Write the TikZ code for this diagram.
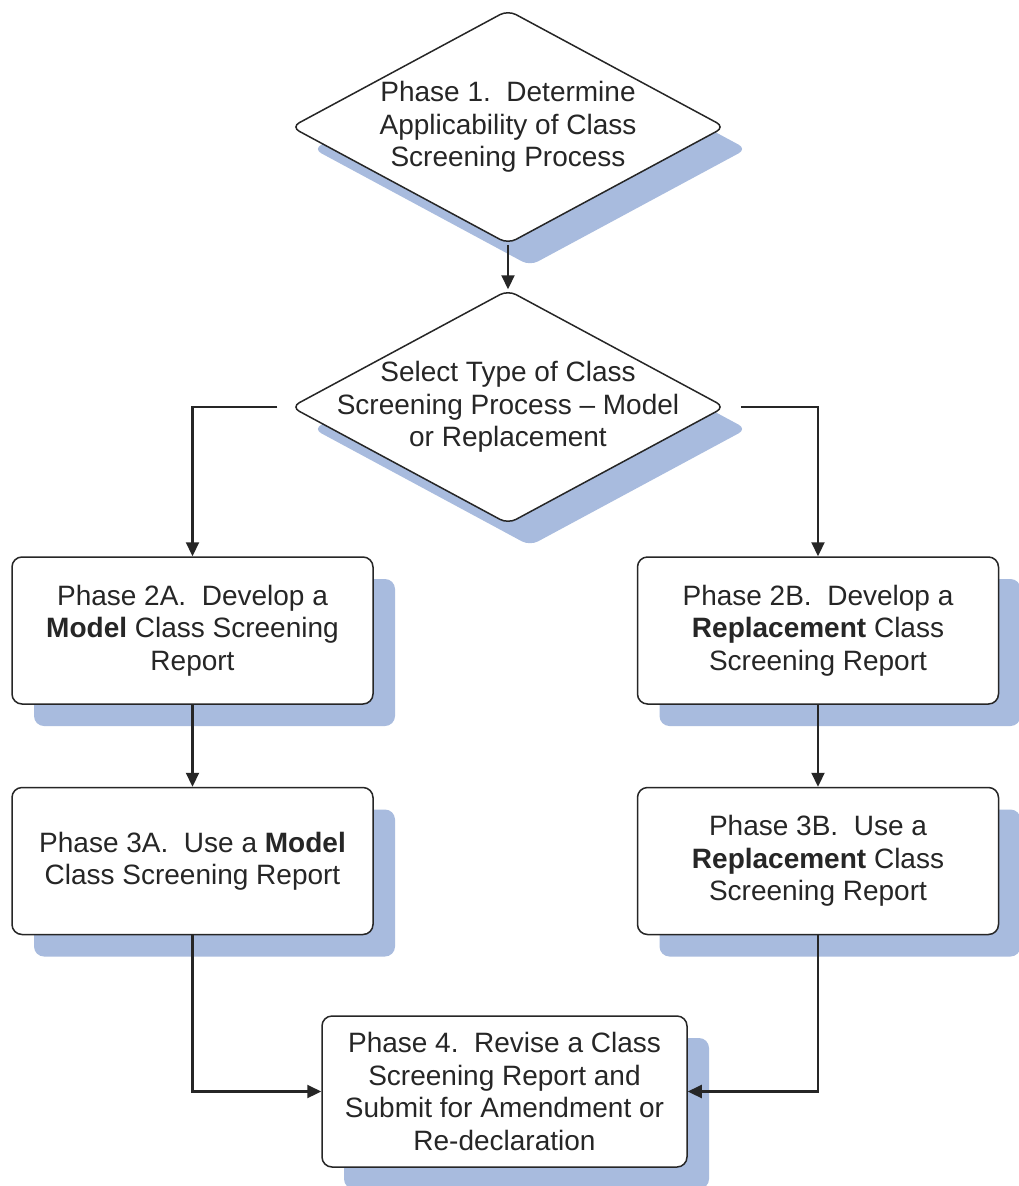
\documentclass[tikz,border=0pt]{standalone}
\usepackage{fontspec}
\setmainfont{Liberation Sans}
\usetikzlibrary{arrows.meta,shadows,shapes.geometric}
\definecolor{shd}{RGB}{168,187,222}
\definecolor{ink}{RGB}{38,38,38}

\begin{document}
\begin{tikzpicture}[x=1pt,y=-1pt,
  dec/.style={diamond,draw=ink,fill=white,line width=1.5pt,rounded corners=9pt,
            aspect=1.86,inner sep=-30pt,minimum width=434pt,minimum height=234pt,
            font=\fontsize{28}{32.5}\selectfont,text=ink,align=center,
            drop shadow={shadow xshift=22pt,shadow yshift=-22pt,fill=shd,opacity=1}},
  box/.style={rectangle,draw=ink,fill=white,line width=1.5pt,rounded corners=10pt,
            minimum width=361pt,minimum height=147pt,inner sep=0pt,
            font=\fontsize{28}{32.5}\selectfont,text=ink,align=center,
            drop shadow={shadow xshift=22pt,shadow yshift=-22pt,fill=shd,opacity=1}},
  ln/.style={draw=ink,line width=2.2pt,-{Triangle[length=14pt,width=13pt]}}]
  \useasboundingbox[fill=white] (0,0) rectangle (1018,1186);
  \node[dec] (p1)  at (508,127)   {Phase 1.~~Determine\\Applicability of Class\\Screening Process};
  \node[dec] (sel) at (508,407)   {Select Type of Class\\Screening Process -- Model\\or Replacement};
  \node[box] (p2a) at (192.5,630.5) {Phase 2A.~~Develop a\\\textbf{Model} Class Screening\\Report};
  \node[box] (p2b) at (818,630.5)   {Phase 2B.~~Develop a\\\textbf{Replacement} Class\\Screening Report};
  \node[box] (p3a) at (192.5,861)   {Phase 3A.~~Use a \textbf{Model}\\Class Screening Report};
  \node[box] (p3b) at (818,861)     {Phase 3B.~~Use a\\\textbf{Replacement} Class\\Screening Report};
  \node[box,minimum width=365pt,minimum height=151pt] (p4) at (504.5,1091.5)
    {Phase 4.~~Revise a Class\\Screening Report and\\Submit for Amendment or\\Re-declaration};
  \draw[ln] (p1) -- (sel);
  \draw[ln] ([xshift=-13pt]sel.west) -| (p2a);
  \draw[ln] ([xshift=15pt]sel.east) -| (p2b);
  \draw[ln] (p2a) -- (p3a);
  \draw[ln] (p2b) -- (p3b);
  \draw[ln] (p3a) |- (p4);
  \draw[ln] (p3b) |- (p4);
\end{tikzpicture}
\end{document}
